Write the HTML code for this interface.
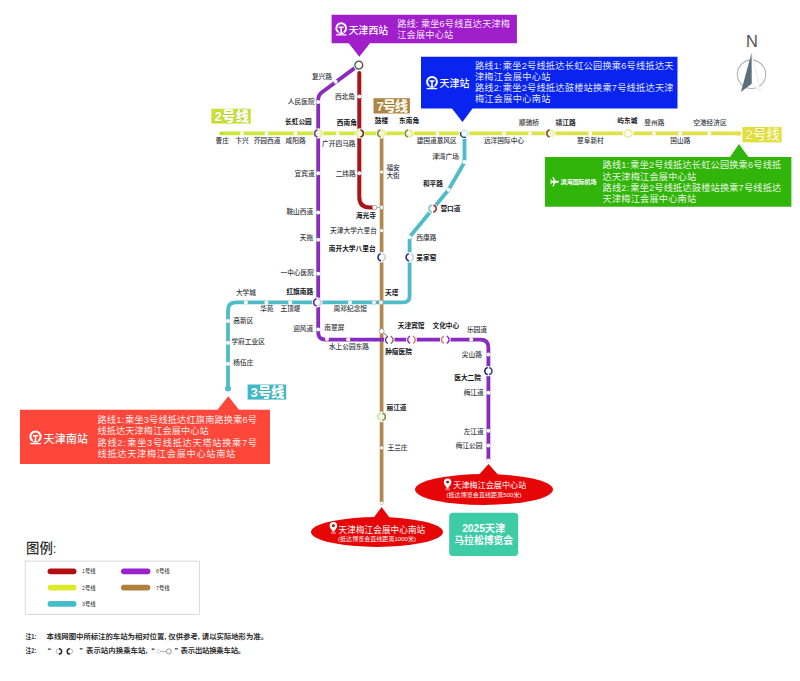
<!DOCTYPE html>
<html lang="zh-CN"><head><meta charset="utf-8"><title>天津地铁线路图 - 2025天津马拉松博览会</title>
<style>html,body{margin:0;padding:0;background:#fff}body{width:800px;height:681px;overflow:hidden}svg{display:block}text{font-family:"Liberation Sans","Noto Sans CJK SC",sans-serif}.s{font-size:6.7px;fill:#33363c;font-weight:500}.b{font-size:6.7px;fill:#15171c;font-weight:700}.w{fill:#fff}.r{font-size:9.2px;fill:#fff;fill-opacity:.9;font-weight:400}</style></head><body>
<svg width="800" height="681" viewBox="0 0 800 681">
<rect width="800" height="681" fill="#fff"/>
<defs><linearGradient id="g2" gradientUnits="userSpaceOnUse" x1="220" y1="0" x2="740" y2="0"><stop offset="0" stop-color="#cfe63e"/><stop offset="0.45" stop-color="#d8e648"/><stop offset="1" stop-color="#e2e04c"/></linearGradient></defs>
<path d="M221 133.4 H739.5" fill="none" stroke="url(#g2)" stroke-width="3.7" stroke-linecap="round" stroke-linejoin="round" />
<path d="M381.6 134 V503" fill="none" stroke="#b2874e" stroke-width="3.7" stroke-linecap="round" stroke-linejoin="round" />
<path d="M359.3 73 V197 Q359.3 207.5 370 207.5 H375" fill="none" stroke="#a91419" stroke-width="4.0" stroke-linecap="round" stroke-linejoin="round" />
<path d="M354.2 68.4 L322 92.2 Q318.2 95 318.2 100 V332.5 Q318.2 339.6 325.5 339.6 H480.5 Q488.4 339.6 488.4 347.5 V460.5" fill="none" stroke="#872cbf" stroke-width="3.8" stroke-linecap="round" stroke-linejoin="round" />
<path d="M464.5 134 V159 Q464.5 162 463.2 164.5 L448.6 189.7 L411 235.3 Q409.6 237 409.6 239.5 V296 Q409.6 302.4 403 302.4 H235.5 Q228 302.4 228 310.5 V388" fill="none" stroke="#4fbcc7" stroke-width="3.8" stroke-linecap="round" stroke-linejoin="round" />
<circle cx="242" cy="133.4" r="1.9" fill="#fff"/>
<circle cx="266.5" cy="133.4" r="1.9" fill="#fff"/>
<circle cx="295.4" cy="133.4" r="1.9" fill="#fff"/>
<circle cx="337.6" cy="133.4" r="1.9" fill="#fff"/>
<circle cx="437.5" cy="133.4" r="1.9" fill="#fff"/>
<circle cx="504" cy="133.4" r="1.9" fill="#fff"/>
<circle cx="530" cy="133.4" r="1.9" fill="#fff"/>
<circle cx="590.3" cy="133.4" r="1.9" fill="#fff"/>
<circle cx="654" cy="133.4" r="1.9" fill="#fff"/>
<circle cx="680.2" cy="133.4" r="1.9" fill="#fff"/>
<circle cx="709.3" cy="133.4" r="1.9" fill="#fff"/>
<circle cx="222" cy="133.4" r="1.7" fill="#c3d83a"/>
<circle cx="738.4" cy="133.4" r="2.3" fill="#e2e04c"/>
<circle cx="318.2" cy="102" r="2.0" fill="#fff"/>
<circle cx="318.2" cy="173.3" r="2.0" fill="#fff"/>
<circle cx="318.2" cy="212.4" r="2.0" fill="#fff"/>
<circle cx="318.2" cy="239.8" r="2.0" fill="#fff"/>
<circle cx="318.2" cy="273.8" r="2.0" fill="#fff"/>
<circle cx="318.2" cy="329.5" r="2.0" fill="#fff"/>
<circle cx="335.6" cy="81.7" r="2.0" fill="#fff"/>
<circle cx="327" cy="338.9" r="2.0" fill="#fff"/>
<circle cx="348.2" cy="339.6" r="2.0" fill="#fff"/>
<circle cx="471.2" cy="339.6" r="2.0" fill="#fff"/>
<circle cx="488.4" cy="354.4" r="2.0" fill="#fff"/>
<circle cx="488.4" cy="392.8" r="2.0" fill="#fff"/>
<circle cx="488.4" cy="430.8" r="2.0" fill="#fff"/>
<circle cx="488.4" cy="445.6" r="2.0" fill="#fff"/>
<circle cx="488.4" cy="460.6" r="2.0" fill="#fff"/>
<circle cx="359.3" cy="96.4" r="2.0" fill="#fff"/>
<circle cx="359.3" cy="173.3" r="2.0" fill="#fff"/>
<circle cx="381.6" cy="172" r="1.6" fill="#fff"/>
<circle cx="381.6" cy="230.6" r="1.6" fill="#fff"/>
<circle cx="381.6" cy="447.8" r="1.6" fill="#fff"/>
<circle cx="381.6" cy="503" r="1.6" fill="#fff"/>
<circle cx="464.4" cy="162" r="2.0" fill="#fff"/>
<circle cx="448.6" cy="189.7" r="2.0" fill="#fff"/>
<circle cx="409.6" cy="237.3" r="2.0" fill="#fff"/>
<circle cx="245.9" cy="302.4" r="2.0" fill="#fff"/>
<circle cx="266.4" cy="302.4" r="2.0" fill="#fff"/>
<circle cx="290.2" cy="302.4" r="2.0" fill="#fff"/>
<circle cx="350" cy="302.4" r="2.0" fill="#fff"/>
<circle cx="228" cy="321.1" r="2.0" fill="#fff"/>
<circle cx="228" cy="342.7" r="2.0" fill="#fff"/>
<circle cx="228" cy="363.7" r="2.0" fill="#fff"/>
<circle cx="228" cy="388.5" r="3.0" fill="#4fbcc7"/>
<circle cx="358.8" cy="65.1" r="5.5" fill="#fff"/>
<path d="M362.46 66.43 A3.9 3.9 0 1 1 360.13 61.44" fill="none" stroke="#35603c" stroke-width="1.3" stroke-linecap="round"/>
<path d="M360.13 61.44 A3.9 3.9 0 0 1 362.46 66.43" fill="none" stroke="#7a2a2a" stroke-width="1.3" stroke-linecap="round"/>
<circle cx="318.2" cy="133.4" r="5.2" fill="#fff"/>
<circle cx="318.2" cy="133.4" r="3.6" fill="#f4f8d4"/>
<path d="M316.97 136.78 A3.6 3.6 0 0 1 316.97 130.02" fill="none" stroke="#6a3aa8" stroke-width="1.6" stroke-linecap="round"/>
<path d="M319.43 130.02 A3.6 3.6 0 0 1 319.43 136.78" fill="none" stroke="#e4ec9a" stroke-width="1.6" stroke-linecap="round"/>
<circle cx="359.8" cy="133.4" r="5.2" fill="#fff"/>
<circle cx="359.8" cy="133.4" r="3.6" fill="#f4f8d4"/>
<path d="M361.03 130.02 A3.6 3.6 0 0 1 361.03 136.78" fill="none" stroke="#6e2a22" stroke-width="1.6" stroke-linecap="round"/>
<path d="M358.57 136.78 A3.6 3.6 0 0 1 358.57 130.02" fill="none" stroke="#e4ec9a" stroke-width="1.6" stroke-linecap="round"/>
<circle cx="381.3" cy="133.4" r="5.2" fill="#fff"/>
<circle cx="381.3" cy="133.4" r="3.6" fill="#f4f8d4"/>
<path d="M380.07 136.78 A3.6 3.6 0 0 1 380.07 130.02" fill="none" stroke="#7f8f46" stroke-width="1.6" stroke-linecap="round"/>
<path d="M382.53 130.02 A3.6 3.6 0 0 1 382.53 136.78" fill="none" stroke="#e4ec9a" stroke-width="1.6" stroke-linecap="round"/>
<circle cx="408.8" cy="133.4" r="5.2" fill="#fff"/>
<circle cx="408.8" cy="133.4" r="3.6" fill="#f4f8d4"/>
<path d="M407.57 136.78 A3.6 3.6 0 0 1 407.57 130.02" fill="none" stroke="#7a9a34" stroke-width="1.6" stroke-linecap="round"/>
<path d="M410.03 130.02 A3.6 3.6 0 0 1 410.03 136.78" fill="none" stroke="#e4ec9a" stroke-width="1.6" stroke-linecap="round"/>
<circle cx="464.2" cy="133.8" r="5.2" fill="#fff"/>
<circle cx="464.2" cy="133.8" r="3.6" fill="#eefafb"/>
<path d="M465.43 137.18 A3.6 3.6 0 0 1 460.82 132.57" fill="none" stroke="#1d2b7a" stroke-width="1.3" stroke-linecap="round"/>
<path d="M462.40 130.68 A3.6 3.6 0 0 1 467.32 135.60" fill="none" stroke="#c4e6ec" stroke-width="1.3" stroke-linecap="round"/>
<circle cx="550.4" cy="133.4" r="5.2" fill="#fff"/>
<circle cx="550.4" cy="133.4" r="3.6" fill="#f4f8d4"/>
<path d="M549.17 136.78 A3.6 3.6 0 0 1 549.17 130.02" fill="none" stroke="#8a4a3a" stroke-width="1.6" stroke-linecap="round"/>
<path d="M551.63 130.02 A3.6 3.6 0 0 1 551.63 136.78" fill="none" stroke="#eef2b0" stroke-width="1.6" stroke-linecap="round"/>
<circle cx="628.2" cy="133.4" r="5.4" fill="#fff"/>
<circle cx="628.2" cy="133.4" r="3.8" fill="#fbfdf0"/>
<path d="M632.00 133.40 A3.8 3.8 0 1 1 632.00 133.39" fill="none" stroke="#e6eea0" stroke-width="1.4" stroke-linecap="round"/>
<circle cx="432.6" cy="208.6" r="5.2" fill="#fff"/>
<path d="M433.83 205.22 A3.6 3.6 0 0 1 433.83 211.98" fill="none" stroke="#a8242a" stroke-width="1.5" stroke-linecap="round"/>
<path d="M431.37 211.98 A3.6 3.6 0 0 1 431.37 205.22" fill="none" stroke="#6cc7cf" stroke-width="1.5" stroke-linecap="round"/>
<circle cx="381.6" cy="257.3" r="5.2" fill="#fff"/>
<path d="M380.37 260.68 A3.6 3.6 0 0 1 380.37 253.92" fill="none" stroke="#1d2b7a" stroke-width="1.5" stroke-linecap="round"/>
<path d="M382.83 253.92 A3.6 3.6 0 0 1 382.83 260.68" fill="none" stroke="#c9cde6" stroke-width="1.5" stroke-linecap="round"/>
<circle cx="409.7" cy="257.3" r="5.2" fill="#fff"/>
<path d="M408.47 260.68 A3.6 3.6 0 0 1 408.47 253.92" fill="none" stroke="#1d2b7a" stroke-width="1.5" stroke-linecap="round"/>
<path d="M410.93 253.92 A3.6 3.6 0 0 1 410.93 260.68" fill="none" stroke="#c9cde6" stroke-width="1.5" stroke-linecap="round"/>
<circle cx="317.3" cy="302.4" r="5.2" fill="#fff"/>
<path d="M316.07 305.78 A3.6 3.6 0 0 1 316.07 299.02" fill="none" stroke="#5b2a98" stroke-width="1.5" stroke-linecap="round"/>
<path d="M318.53 299.02 A3.6 3.6 0 0 1 318.53 305.78" fill="none" stroke="#d6c4ee" stroke-width="1.5" stroke-linecap="round"/>
<circle cx="389.3" cy="339.9" r="5.4" fill="#fff"/>
<path d="M387.40 343.19 A3.8 3.8 0 0 1 387.40 336.61" fill="none" stroke="#5f3a9a" stroke-width="1.5" stroke-linecap="round"/>
<path d="M391.20 336.61 A3.8 3.8 0 0 1 391.20 343.19" fill="none" stroke="#9a6a60" stroke-width="1.5" stroke-linecap="round"/>
<circle cx="411.5" cy="339.7" r="5.4" fill="#fff"/>
<path d="M409.60 342.99 A3.8 3.8 0 0 1 409.60 336.41" fill="none" stroke="#8a2fc0" stroke-width="1.5" stroke-linecap="round"/>
<path d="M413.40 336.41 A3.8 3.8 0 0 1 413.40 342.99" fill="none" stroke="#c98a5a" stroke-width="1.5" stroke-linecap="round"/>
<circle cx="445.3" cy="339.7" r="5.4" fill="#fff"/>
<path d="M443.40 342.99 A3.8 3.8 0 0 1 443.40 336.41" fill="none" stroke="#c98a5a" stroke-width="1.5" stroke-linecap="round"/>
<path d="M447.20 336.41 A3.8 3.8 0 0 1 447.20 342.99" fill="none" stroke="#8a2fc0" stroke-width="1.5" stroke-linecap="round"/>
<circle cx="488.4" cy="371.1" r="5.2" fill="#fff"/>
<path d="M487.17 374.48 A3.6 3.6 0 0 1 487.17 367.72" fill="none" stroke="#1d2b7a" stroke-width="1.5" stroke-linecap="round"/>
<path d="M489.63 367.72 A3.6 3.6 0 0 1 489.63 374.48" fill="none" stroke="#3a4a9a" stroke-width="1.5" stroke-linecap="round"/>
<circle cx="381.6" cy="416.8" r="5.4" fill="#fff"/>
<circle cx="381.6" cy="416.8" r="3.8" fill="#f6fbe6"/>
<path d="M380.30 420.37 A3.8 3.8 0 0 1 380.30 413.23" fill="none" stroke="#cbe6a0" stroke-width="1.5" stroke-linecap="round"/>
<path d="M382.90 413.23 A3.8 3.8 0 0 1 382.90 420.37" fill="none" stroke="#8a8a48" stroke-width="1.5" stroke-linecap="round"/>
<line x1="374.6" y1="207.5" x2="381.6" y2="207.5" stroke="#888" stroke-width="0.7"/>
<circle cx="374.6" cy="207.5" r="2.3" fill="#fff" stroke="#9a8a80" stroke-width="0.6"/>
<circle cx="381.6" cy="207.5" r="1.9" fill="#fff" stroke="#b0a090" stroke-width="0.6"/>
<line x1="374" y1="302.4" x2="381" y2="302.4" stroke="#888" stroke-width="0.7"/>
<circle cx="374" cy="302.4" r="2.1" fill="#fff" stroke="#9ac0c8" stroke-width="0.6"/>
<circle cx="381" cy="302.4" r="2.1" fill="#fff" stroke="#b0a890" stroke-width="0.6"/>
<line x1="381.6" y1="331.2" x2="387.2" y2="336" stroke="#666" stroke-width="0.8"/>
<circle cx="381.6" cy="331.2" r="2.5" fill="#fff" stroke="#8a8070" stroke-width="0.6"/>
<text x="222.3" y="143.4" class="s" text-anchor="middle">曹庄</text>
<text x="242" y="143.4" class="s" text-anchor="middle">卞兴</text>
<text x="267" y="143.4" class="s" text-anchor="middle">芥园西道</text>
<text x="295.6" y="143.4" class="s" text-anchor="middle">咸阳路</text>
<text x="298.4" y="123.80000000000001" class="b" text-anchor="middle">长虹公园</text>
<text x="346.8" y="124.7" class="b" text-anchor="middle">西南角</text>
<text x="381.4" y="123.4" class="b" text-anchor="middle">鼓楼</text>
<text x="409.1" y="123.0" class="b" text-anchor="middle">东南角</text>
<text x="436.7" y="142.6" class="s" text-anchor="middle">建国道意风区</text>
<text x="504" y="142.6" class="s" text-anchor="middle">远洋国际中心</text>
<text x="529" y="125.10000000000001" class="s" text-anchor="middle">顺驰桥</text>
<text x="565.6" y="125.10000000000001" class="b" text-anchor="middle">靖江路</text>
<text x="590.4" y="142.6" class="s" text-anchor="middle">翠阜新村</text>
<text x="627.3" y="122.9" class="b" text-anchor="middle">屿东城</text>
<text x="654.4" y="125.10000000000001" class="s" text-anchor="middle">登州路</text>
<text x="680.3" y="142.9" class="s" text-anchor="middle">国山路</text>
<text x="709.9" y="125.10000000000001" class="s" text-anchor="middle">空港经济区</text>
<text x="332" y="79.0" class="s" text-anchor="end">复兴路</text>
<text x="314.6" y="104.2" class="s" text-anchor="end">人民医院</text>
<text x="355" y="98.80000000000001" class="s" text-anchor="end">西北角</text>
<text x="314.6" y="175.70000000000002" class="s" text-anchor="end">宜宾道</text>
<text x="355.7" y="175.70000000000002" class="s" text-anchor="end">二纬路</text>
<text x="313.2" y="213.8" class="s" text-anchor="end">鞍山西道</text>
<text x="313.2" y="240.0" class="s" text-anchor="end">天拖</text>
<text x="313.9" y="274.7" class="s" text-anchor="end">一中心医院</text>
<text x="313.2" y="294.0" class="b" text-anchor="end">红旗南路</text>
<text x="375.9" y="218.3" class="b" text-anchor="end">海光寺</text>
<text x="376.9" y="233.0" class="s" text-anchor="end">天津大学六里台</text>
<text x="375.6" y="251.0" class="b" text-anchor="end">南开大学八里台</text>
<text x="313.2" y="331.4" class="s" text-anchor="end">迎风道</text>
<text x="481.9" y="356.7" class="s" text-anchor="end">尖山路</text>
<text x="481" y="379.7" class="b" text-anchor="end">医大二院</text>
<text x="483.7" y="395.2" class="s" text-anchor="end">梅江道</text>
<text x="483.7" y="434.29999999999995" class="s" text-anchor="end">左江道</text>
<text x="482.5" y="448.0" class="s" text-anchor="end">梅江公园</text>
<text x="322.1" y="146.3" class="s" text-anchor="start">广开四马路</text>
<text x="386.4" y="170.4" class="s" text-anchor="start">福安</text>
<text x="386.4" y="178.3" class="s" text-anchor="start">大街</text>
<text x="432.2" y="158.6" class="s" text-anchor="start">津湾广场</text>
<text x="422.9" y="186.3" class="b" text-anchor="start">和平路</text>
<text x="440.4" y="211.4" class="b" text-anchor="start">营口道</text>
<text x="416.3" y="239.8" class="s" text-anchor="start">西康路</text>
<text x="416.3" y="260.0" class="b" text-anchor="start">吴家窑</text>
<text x="385" y="294.59999999999997" class="b" text-anchor="start">天塔</text>
<text x="235.9" y="295.0" class="s" text-anchor="start">大学城</text>
<text x="260.2" y="310.9" class="s" text-anchor="start">华苑</text>
<text x="280.4" y="310.9" class="s" text-anchor="start">王顶堤</text>
<text x="333.6" y="310.9" class="s" text-anchor="start">周邓纪念馆</text>
<text x="233.3" y="323.0" class="s" text-anchor="start">高新区</text>
<text x="231.4" y="344.29999999999995" class="s" text-anchor="start">学府工业区</text>
<text x="233.3" y="365.29999999999995" class="s" text-anchor="start">杨伍庄</text>
<text x="324.3" y="329.7" class="s" text-anchor="start">南翠屏</text>
<text x="328.9" y="348.9" class="s" text-anchor="start">水上公园东路</text>
<text x="385.2" y="354.09999999999997" class="b" text-anchor="start">肿瘤医院</text>
<text x="397.8" y="328.4" class="b" text-anchor="start">天津宾馆</text>
<text x="432.5" y="328.4" class="b" text-anchor="start">文化中心</text>
<text x="466.9" y="331.79999999999995" class="s" text-anchor="start">乐园道</text>
<text x="386.5" y="409.9" class="b" text-anchor="start">丽江道</text>
<text x="387.5" y="450.2" class="s" text-anchor="start">王兰庄</text>
<rect x="211.4" y="108.7" width="39.400000000000006" height="14.899999999999991" fill="#c8e132"/>
<text x="231.70000000000002" y="120.87150000000001" text-anchor="middle" font-size="13.3" font-weight="900" fill="#fff" stroke="#9db52a" stroke-width="0.4" paint-order="stroke" textLength="34.60000000000001" lengthAdjust="spacing">2号线</text>
<rect x="742.4" y="127.0" width="39.200000000000045" height="15.400000000000006" fill="#e0e03e"/>
<text x="762.6" y="139.42149999999998" text-anchor="middle" font-size="13.3" font-weight="500" fill="#fdfcd2" stroke="#c9c93c" stroke-width="0.4" paint-order="stroke" textLength="34.40000000000005" lengthAdjust="spacing">2号线</text>
<rect x="373.5" y="98.2" width="36.39999999999998" height="15.299999999999997" fill="#ad8646"/>
<text x="392.3" y="110.5715" text-anchor="middle" font-size="13.3" font-weight="900" fill="#fff8e4" stroke="#8a6a36" stroke-width="0.4" paint-order="stroke" textLength="31.599999999999977" lengthAdjust="spacing">7号线</text>
<rect x="247.6" y="384.5" width="38.599999999999994" height="15.100000000000023" fill="#3fb9c5"/>
<text x="267.5" y="396.7715" text-anchor="middle" font-size="13.3" font-weight="900" fill="#fff" stroke="#3299a4" stroke-width="0.4" paint-order="stroke" textLength="33.8" lengthAdjust="spacing">3号线</text>
<path d="M331.6 14.7 H516.9 V43.2 H370 L359.3 56.8 L348.8 43.2 H331.6 Z" fill="#a11ecb"/>
<g transform="translate(341.2 28.2) scale(1.0)" fill="none" stroke="#fff" stroke-linejoin="round">
<path d="M-2.7 4.1 A4.9 4.9 0 1 1 2.7 4.1" stroke-width="2" stroke-linecap="butt"/>
<path d="M-1.9 -0.9 H1.9" stroke-width="1.5" stroke-linecap="round"/>
<path d="M0 -0.9 V5.6" stroke-width="1.6"/>
<path d="M-2.6 5 H2.6" stroke-width="1.3"/>
<path d="M-4.8 6.7 H4.8" stroke-width="1.3" stroke-linecap="round"/>
</g>
<text x="348.8" y="33.6" font-size="9.8" font-weight="500" class="w">天津西站</text>
<text x="397.2" y="27.11" class="r" font-size="9.2" textLength="112.8" lengthAdjust="spacing">路线:<tspan dx="2.3">乘坐6号线直达天津梅</tspan></text>
<text x="397.2" y="38.11" class="r" font-size="9.2" textLength="56" lengthAdjust="spacing">江会展中心站</text>
<path d="M421 56.7 H677.5 V108.4 H472.5 L462.5 122 L452 108.4 H421 Z" fill="#0824ee"/>
<g transform="translate(432 81.9) scale(1.0)" fill="none" stroke="#fff" stroke-linejoin="round">
<path d="M-2.7 4.1 A4.9 4.9 0 1 1 2.7 4.1" stroke-width="2" stroke-linecap="butt"/>
<path d="M-1.9 -0.9 H1.9" stroke-width="1.5" stroke-linecap="round"/>
<path d="M0 -0.9 V5.6" stroke-width="1.6"/>
<path d="M-2.6 5 H2.6" stroke-width="1.3"/>
<path d="M-4.8 6.7 H4.8" stroke-width="1.3" stroke-linecap="round"/>
</g>
<text x="439.6" y="87" font-size="9.95" font-weight="500" class="w">天津站</text>
<text x="474.9" y="69.11" class="r" font-size="9.2" textLength="198.6" lengthAdjust="spacing">路线1:<tspan dx="0.9">乘坐2号线抵达长虹公园换乘6号线抵达天</tspan></text>
<text x="474.9" y="79.91" class="r" font-size="9.2" textLength="75.5" lengthAdjust="spacing">津梅江会展中心站</text>
<text x="474.9" y="91.21" class="r" font-size="9.2" textLength="198.6" lengthAdjust="spacing">路线2:<tspan dx="0.9">乘坐2号线抵达鼓楼站换乘7号线抵达天津</tspan></text>
<text x="474.9" y="102.31" class="r" font-size="9.2" textLength="75.5" lengthAdjust="spacing">梅江会展中心南站</text>
<path d="M544.9 156.9 H730 L739 144 L748.4 156.9 H791.4 V206.8 H544.9 Z" fill="#32b50a"/>
<g transform="translate(554.6 181.8) scale(1.02 1.2)" fill="#fff"><path d="M4.2 0 C4.2 -0.7 3.4 -0.8 2.6 -0.8 H0.9 L-1.2 -3.9 H-2.2 L-1 -0.8 H-2.6 L-3.5 -2 H-4.2 L-3.7 0 L-4.2 2 H-3.5 L-2.6 0.8 H-1 L-2.2 3.9 H-1.2 L0.9 0.8 H2.6 C3.4 0.8 4.2 0.7 4.2 0 Z"/></g>
<text x="560.4" y="184.2" font-size="6.06" font-weight="700" class="w">滨海国际机场</text>
<text x="602.6" y="168.31" class="r" font-size="9.2" textLength="178.6" lengthAdjust="spacing">路线1:<tspan dx="0.9">乘坐2号线抵达长虹公园换乘6号线抵</tspan></text>
<text x="602.6" y="180.01" class="r" font-size="9.2" textLength="93.5" lengthAdjust="spacing">达天津梅江会展中心站</text>
<text x="602.6" y="191.31" class="r" font-size="9.2" textLength="178.6" lengthAdjust="spacing">路线2:<tspan dx="0.9">乘坐2号线抵达鼓楼站换乘7号线抵达</tspan></text>
<text x="602.6" y="202.41" class="r" font-size="9.2" textLength="93.5" lengthAdjust="spacing">天津梅江会展中心南站</text>
<path d="M20 409.8 H217.5 L228.3 396.3 L239 409.8 H270 V464 H20 Z" fill="#fd473b"/>
<g transform="translate(35.5 436.6) scale(1.04)" fill="none" stroke="#fff" stroke-linejoin="round">
<path d="M-2.7 4.1 A4.9 4.9 0 1 1 2.7 4.1" stroke-width="2" stroke-linecap="butt"/>
<path d="M-1.9 -0.9 H1.9" stroke-width="1.5" stroke-linecap="round"/>
<path d="M0 -0.9 V5.6" stroke-width="1.6"/>
<path d="M-2.6 5 H2.6" stroke-width="1.3"/>
<path d="M-4.8 6.7 H4.8" stroke-width="1.3" stroke-linecap="round"/>
</g>
<text x="43.6" y="442.7" font-size="10.9" font-weight="500" class="w" textLength="44.4" lengthAdjust="spacing">天津南站</text>
<text x="97.5" y="422.81" class="r" font-size="9.2" textLength="159.5" lengthAdjust="spacing">路线1:<tspan dx="0.9">乘坐3号线抵达红旗南路换乘6号</tspan></text>
<text x="97.5" y="433.91" class="r" font-size="9.2" textLength="111.2" lengthAdjust="spacing">线抵达天津梅江会展中心站</text>
<text x="97.5" y="446.31" class="r" font-size="9.2" textLength="159.5" lengthAdjust="spacing">路线2:<tspan dx="0.9">乘坐3号线抵达天塔站换乘7号</tspan></text>
<text x="97.5" y="457.41" class="r" font-size="9.2" textLength="137.8" lengthAdjust="spacing">线抵达天津梅江会展中心站南站</text>
<ellipse cx="484" cy="489.5" rx="69" ry="15.5" fill="#e60608"/>
<path d="M476.5 477.5 L488.5 464 L500.5 477.5 Z" fill="#e60608"/>
<g transform="translate(447.6 483.6)"><path d="M0 5.3 C-1.4 2.9 -3.8 0.9 -3.8 -1.4 A3.8 3.8 0 1 1 3.8 -1.4 C3.8 0.9 1.4 2.9 0 5.3 Z" fill="#fff"/><circle cx="0" cy="-1.5" r="1.45" fill="#8a1410"/><ellipse cx="0" cy="5.7" rx="2.5" ry="0.7" fill="none" stroke="#fff" stroke-opacity=".8" stroke-width="0.55"/></g>
<text x="453.3" y="487.5" font-size="8.1" font-weight="400" class="w" textLength="73" lengthAdjust="spacing">天津梅江会展中心站</text>
<text x="446.4" y="497.1" font-size="6" class="w" textLength="75.2" lengthAdjust="spacing">(抵达博览会直线距离500米)</text>
<ellipse cx="377" cy="532" rx="66" ry="15" fill="#e60608"/>
<path d="M371.5 520.5 L381.6 507 L391.7 520.5 Z" fill="#e60608"/>
<g transform="translate(333.4 527.2)"><path d="M0 5.3 C-1.4 2.9 -3.8 0.9 -3.8 -1.4 A3.8 3.8 0 1 1 3.8 -1.4 C3.8 0.9 1.4 2.9 0 5.3 Z" fill="#fff"/><circle cx="0" cy="-1.5" r="1.45" fill="#8a1410"/><ellipse cx="0" cy="5.7" rx="2.5" ry="0.7" fill="none" stroke="#fff" stroke-opacity=".8" stroke-width="0.55"/></g>
<text x="338.6" y="533.0" font-size="8.6" font-weight="400" class="w" textLength="86.6" lengthAdjust="spacing">天津梅江会展中心南站</text>
<text x="338" y="540.9" font-size="6" class="w" textLength="78" lengthAdjust="spacing">(抵达博览会直线距离1000米)</text>
<rect x="449.2" y="512.7" width="69" height="43.2" rx="3.6" fill="#3dcca6"/>
<text x="483.7" y="531.6" font-size="10.2" font-weight="700" text-anchor="middle" class="w">2025天津</text>
<text x="483.7" y="544" font-size="9.8" font-weight="700" text-anchor="middle" class="w">马拉松博览会</text>
<text x="751.9" y="47.4" font-size="16.4" text-anchor="middle" fill="#555">N</text>
<circle cx="751.5" cy="74.3" r="14.2" fill="none" stroke="#b2b2b2" stroke-width="1.1"/>
<path d="M751.5 53.2 L760.5 91.4 L751.7 83.7 Z" fill="#fff" stroke="#d8d8d8" stroke-width="0.5"/>
<path d="M751.5 53.2 L740.9 92 L751.7 83.7 Z" fill="#5b6f7d"/>
<text x="26" y="553" font-size="13.4" fill="#2f2f2f" font-weight="500">图例:</text>
<rect x="25.2" y="561.1" width="174.2" height="53.5" fill="#fff" stroke="#cdcdcd" stroke-width="0.7"/>
<line x1="50.5" y1="571.3" x2="73.6" y2="571.3" stroke="#b10f12" stroke-width="5.8" stroke-linecap="round"/>
<text x="82.1" y="573.1999999999999" font-size="5.3" font-weight="500" fill="#3a3a3a">1号线</text>
<line x1="50.5" y1="587.6" x2="73.6" y2="587.6" stroke="#dde92b" stroke-width="5.8" stroke-linecap="round"/>
<text x="82.1" y="589.5" font-size="5.3" font-weight="500" fill="#3a3a3a">2号线</text>
<line x1="50.5" y1="603.9" x2="73.6" y2="603.9" stroke="#45bccb" stroke-width="5.8" stroke-linecap="round"/>
<text x="82.1" y="605.8" font-size="5.3" font-weight="500" fill="#3a3a3a">3号线</text>
<line x1="123.9" y1="571.3" x2="147.5" y2="571.3" stroke="#9a22cc" stroke-width="5.8" stroke-linecap="round"/>
<text x="156.0" y="573.1999999999999" font-size="5.3" font-weight="500" fill="#3a3a3a">6号线</text>
<line x1="123.9" y1="587.6" x2="147.5" y2="587.6" stroke="#b0813c" stroke-width="5.8" stroke-linecap="round"/>
<text x="156.0" y="589.5" font-size="5.3" font-weight="500" fill="#3a3a3a">7号线</text>
<text x="25.6" y="638.5" font-size="7.4" font-weight="700" fill="#2f2f2f" textLength="10.8" lengthAdjust="spacingAndGlyphs">注1:</text>
<text x="46.6" y="638.5" font-size="7.4" font-weight="700" fill="#2f2f2f" textLength="221.5" lengthAdjust="spacing">本线网图中所标注的车站为相对位置, 仅供参考, 请以实际地形为准。</text>
<text x="25.6" y="653.4" font-size="7.4" font-weight="700" fill="#2f2f2f" textLength="10.8" lengthAdjust="spacingAndGlyphs">注2:</text>
<text x="47.4" y="653.4" font-size="7.4" font-weight="700" fill="#2f2f2f">“</text>
<circle cx="58.8" cy="651.4" r="2.6" fill="#fff" stroke="#9a9a9a" stroke-width="0.7"/>
<path d="M59.0 648.8 a2.6 2.6 0 0 1 0 5.2" fill="none" stroke="#2a2a2a" stroke-width="1.5"/>
<circle cx="70" cy="651.4" r="2.6" fill="#fff" stroke="#9a9a9a" stroke-width="0.7"/>
<path d="M69.8 648.8 a2.6 2.6 0 0 0 0 5.2" fill="none" stroke="#2a2a2a" stroke-width="1.5"/>
<text x="79.2" y="653.4" font-size="7.4" font-weight="700" fill="#2f2f2f">”</text>
<text x="86" y="653.4" font-size="7.4" font-weight="700" fill="#2f2f2f" textLength="61.5" lengthAdjust="spacing">表示站内换乘车站,</text>
<text x="151.3" y="653.4" font-size="7.4" font-weight="700" fill="#2f2f2f">“</text>
<line x1="160.4" y1="651.4" x2="166.4" y2="651.4" stroke="#777" stroke-width="0.6"/>
<circle cx="158.8" cy="651.4" r="1.8" fill="#fff" stroke="#a8a8a8" stroke-width="0.5"/>
<circle cx="168.9" cy="651.4" r="2.5" fill="#fff" stroke="#555" stroke-width="0.6"/>
<text x="174.5" y="653.4" font-size="7.4" font-weight="700" fill="#2f2f2f">”</text>
<text x="180.6" y="653.4" font-size="7.4" font-weight="700" fill="#2f2f2f" textLength="64.6" lengthAdjust="spacing">表示出站换乘车站。</text>
</svg></body></html>
